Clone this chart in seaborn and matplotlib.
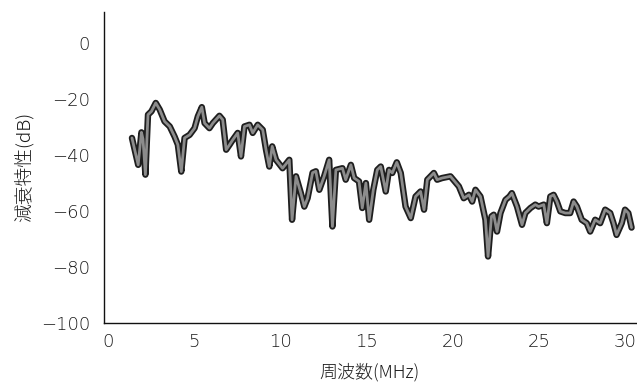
import numpy as np
import pandas as pd
import matplotlib
matplotlib.use("Agg")
import matplotlib.pyplot as plt
import seaborn as sns

# frequency (MHz) and attenuation (dB)
freq = [1.40, 1.76, 1.95, 2.04, 2.18, 2.33, 2.53, 2.78, 3.01, 3.29, 3.59, 3.87,
        4.06, 4.26, 4.45, 4.74, 5.03, 5.22, 5.45, 5.61, 5.89, 6.09, 6.47, 6.66,
        6.86, 7.06, 7.24, 7.53, 7.72, 7.92, 8.21, 8.40, 8.69, 8.98, 9.17, 9.36,
        9.53, 9.75, 10.13, 10.52, 10.68, 10.91, 11.19, 11.39, 11.58, 11.87, 12.06,
        12.26, 12.54, 12.83, 13.02, 13.22, 13.60, 13.79, 14.09, 14.28, 14.56,
        14.75, 14.96, 15.15, 15.39, 15.62, 15.82, 16.11, 16.30, 16.49, 16.75,
        16.98, 17.26, 17.56, 17.84, 18.13, 18.33, 18.52, 18.90, 19.09, 19.38,
        19.86, 20.35, 20.63, 20.93, 21.12, 21.31, 21.60, 21.89, 22.04, 22.24,
        22.37, 22.56, 22.76, 23.05, 23.28, 23.42, 23.72, 24.01, 24.20, 24.50,
        24.78, 24.97, 25.27, 25.45, 25.65, 25.84, 26.03, 26.23, 26.52, 26.80,
        27.00, 27.19, 27.47, 27.76, 27.96, 28.25, 28.54, 28.83, 29.12, 29.31,
        29.49, 29.79, 29.98, 30.17, 30.36]
atten = [-34.0, -43.6, -32.0, -34.4, -47.1, -25.7, -24.5, -21.5, -23.9, -28.1,
         -29.9, -33.5, -36.4, -46.0, -34.0, -32.9, -30.5, -26.3, -23.0, -28.7,
         -30.5, -28.7, -26.1, -27.5, -38.2, -36.4, -34.7, -32.2, -40.6, -29.9,
         -29.3, -32.2, -29.3, -31.1, -38.2, -44.2, -37.0, -41.8, -44.8, -41.8,
         -63.2, -47.7, -53.7, -58.5, -55.5, -46.4, -45.9, -52.5, -47.7, -41.8,
         -65.6, -45.4, -44.8, -48.9, -43.6, -48.3, -49.5, -59.0, -50.1, -63.2,
         -52.5, -45.4, -44.2, -53.1, -45.4, -46.5, -42.7, -46.5, -58.5, -62.6,
         -54.9, -53.1, -59.6, -48.9, -46.5, -48.9, -48.3, -47.7, -51.3, -55.5,
         -54.3, -56.7, -52.5, -54.9, -63.2, -76.3, -62.0, -61.4, -67.4, -60.8,
         -56.1, -54.9, -53.7, -58.5, -65.0, -60.8, -59.0, -57.8, -58.5, -57.8,
         -64.4, -54.9, -54.3, -56.7, -60.2, -60.8, -60.8, -56.7, -58.5, -63.2,
         -64.4, -67.4, -63.2, -64.4, -59.6, -60.8, -64.4, -68.6, -64.4, -59.6,
         -60.8, -66.0]

xticks = [0, 5, 10, 15, 20, 25, 30]
yticks = [0, -20, -40, -60, -80, -100]

df = pd.DataFrame({"freq": freq, "atten": atten})

sns.set_style("white")
plt.rcParams['font.family'] = ['Noto Sans CJK JP', 'DejaVu Sans']
plt.rcParams['axes.unicode_minus'] = True

fig = plt.figure(figsize=(6.37, 3.83), dpi=100)
ax = fig.add_axes([0.163, 0.157, 0.835, 0.812])

# thick dark outline with a gray core, like the printed trace
sns.lineplot(data=df, x="freq", y="atten", ax=ax, color="#1e1e1e", lw=4.6,
             sort=False, estimator=None)
sns.lineplot(data=df, x="freq", y="atten", ax=ax, color="#8c8c8c", lw=2.0,
             sort=False, estimator=None)

ax.set_xlim(-0.23, 30.6)
ax.set_ylim(-100, 11)
ax.set_xticks(xticks)
ax.set_yticks(yticks)
ax.set_xticklabels([str(t) for t in xticks], family='DejaVu Sans',
                   fontweight='light')
ax.set_yticklabels(["\u2212" + str(-t) if t < 0 else str(t) for t in yticks],
                   family='DejaVu Sans', fontweight='light')
ax.tick_params(length=0, labelsize=13, colors="#1a1a1a")
ax.tick_params(axis='y', pad=10)
ax.tick_params(axis='x', pad=7)

for s in ['top', 'right']:
    ax.spines[s].set_visible(False)
for s in ['left', 'bottom']:
    ax.spines[s].set_color("#111111")
    ax.spines[s].set_linewidth(1.0)

ax.set_xlabel("周波数(MHz)", fontsize=13, color="#1a1a1a", fontweight='light')
ax.set_ylabel("減衰特性(dB)", fontsize=13.5, color="#1a1a1a", fontweight='light')
ax.xaxis.set_label_coords(0.5, -0.13)
ax.yaxis.set_label_coords(-0.132, 0.5)

fig.savefig("out.png", dpi=100)
